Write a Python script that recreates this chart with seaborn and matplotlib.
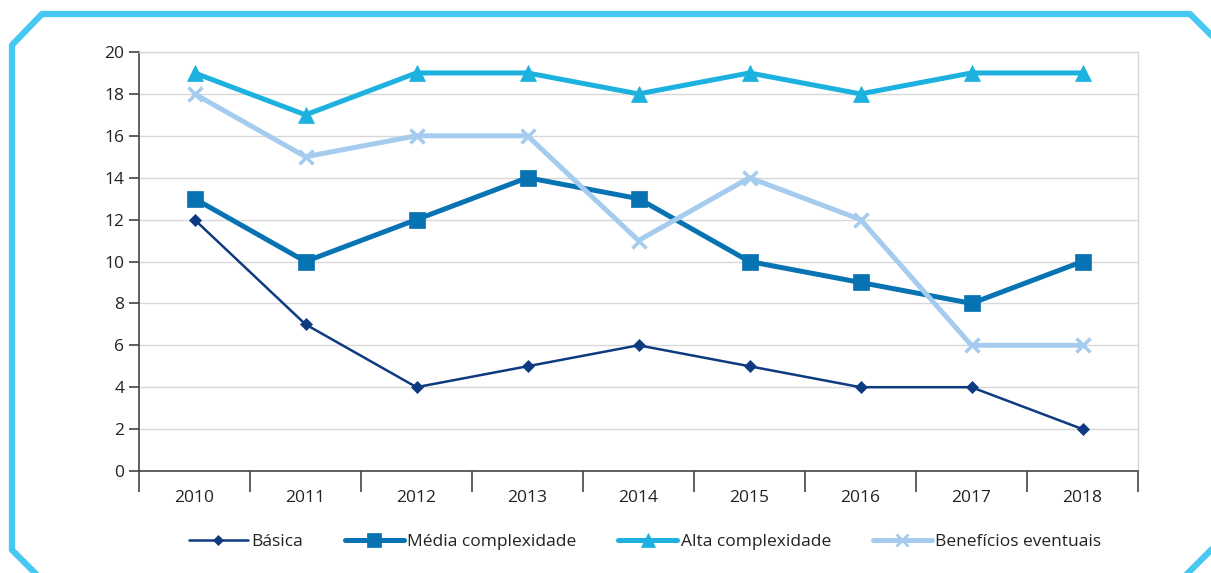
import pandas as pd
import matplotlib.pyplot as plt
import seaborn as sns
from matplotlib.lines import Line2D

# Data
years = ["2010", "2011", "2012", "2013", "2014", "2015", "2016", "2017", "2018"]
basica = [12, 7, 4, 5, 6, 5, 4, 4, 2]
media = [13, 10, 12, 14, 13, 10, 9, 8, 10]
alta = [19, 17, 19, 19, 18, 19, 18, 19, 19]
beneficios = [18, 15, 16, 16, 11, 14, 12, 6, 6]

series_names = ["Básica", "Média complexidade", "Alta complexidade", "Benefícios eventuais"]
colors = ["#0E3A82", "#0873B3", "#1CB1DF", "#A5CCEE"]
markers = ["D", "s", "^", "x"]
widths = [1.8, 3.6, 3.6, 3.6]
msizes = [6, 11, 11, 10]

df = pd.DataFrame({"Ano": years * 4,
                   "Valor": basica + media + alta + beneficios,
                   "Serie": sum([[s] * len(years) for s in series_names], [])})

sns.set_style("white")
plt.rcParams["font.family"] = ["Open Sans", "DejaVu Sans"]

fig = plt.figure(figsize=(12.11, 5.73), dpi=100)
ax = fig.add_axes([139 / 1211, 1 - 471 / 573, (1138 - 139) / 1211, (471 - 52) / 573])

for name, c, m, lw, ms in zip(series_names, colors, markers, widths, msizes):
    sns.lineplot(data=df[df["Serie"] == name], x="Ano", y="Valor", ax=ax,
                 color=c, marker=m, linewidth=lw, markersize=ms,
                 markeredgecolor=c, markeredgewidth=2.5 if m == "x" else 0.5,
                 legend=False, zorder=3)

ax.set_xlim(-0.5, len(years) - 0.5)
ax.set_ylim(0, 20)
ax.set_yticks(range(0, 21, 2))
ax.set_xticks(range(len(years)))
ax.set_xticklabels(years)
ax.set_xticks([i - 0.5 for i in range(len(years) + 1)], minor=True)
ax.tick_params(axis="x", which="major", length=0, pad=14, labelsize=12.5, colors="#222222")
ax.tick_params(axis="x", which="minor", bottom=True, length=15, width=1.2,
               color="#444444", direction="out")
ax.tick_params(axis="y", length=7, width=1.2, color="#444444", direction="out", labelsize=12.5,
               labelcolor="#222222", left=True)
ax.grid(axis="y", color="#D8D8D8", linewidth=1)
ax.set_axisbelow(True)
ax.set_xlabel("")
ax.set_ylabel("")
for side in ["left", "bottom"]:
    ax.spines[side].set_color("#444444")
    ax.spines[side].set_linewidth(1.2)
for side in ["top", "right"]:
    ax.spines[side].set_color("#D8D8D8")
    ax.spines[side].set_linewidth(1)

handles = [Line2D([], [], color=c, marker=m, linewidth=lw, markersize=ms * 0.9,
                  markeredgecolor=c, markeredgewidth=2 if m == "x" else 0.5)
           for c, m, lw, ms in zip(colors, markers, widths, msizes)]
fig.legend(handles, series_names, loc="center", bbox_to_anchor=(645 / 1211, 1 - 542 / 573),
           ncol=4, frameon=False, fontsize=12.5, handlelength=3.4, handletextpad=0.2,
           columnspacing=2.4, labelcolor="#222222")

# cyan frame with chamfered corners
frame_color = "#45C8F2"
frame_x = [45, 12, 12, 42, 1190, 1225]
frame_y = [583, 550, 45, 14, 14, 49]
fig.add_artist(Line2D([x / 1211 for x in frame_x], [1 - y / 573 for y in frame_y],
                      color=frame_color, linewidth=4.5, transform=fig.transFigure))
fig.add_artist(Line2D([1178 / 1211, 1225 / 1211], [1 - 583 / 573, 1 - 536 / 573],
                      color=frame_color, linewidth=4.5, transform=fig.transFigure))

fig.savefig("out.png", dpi=100)
